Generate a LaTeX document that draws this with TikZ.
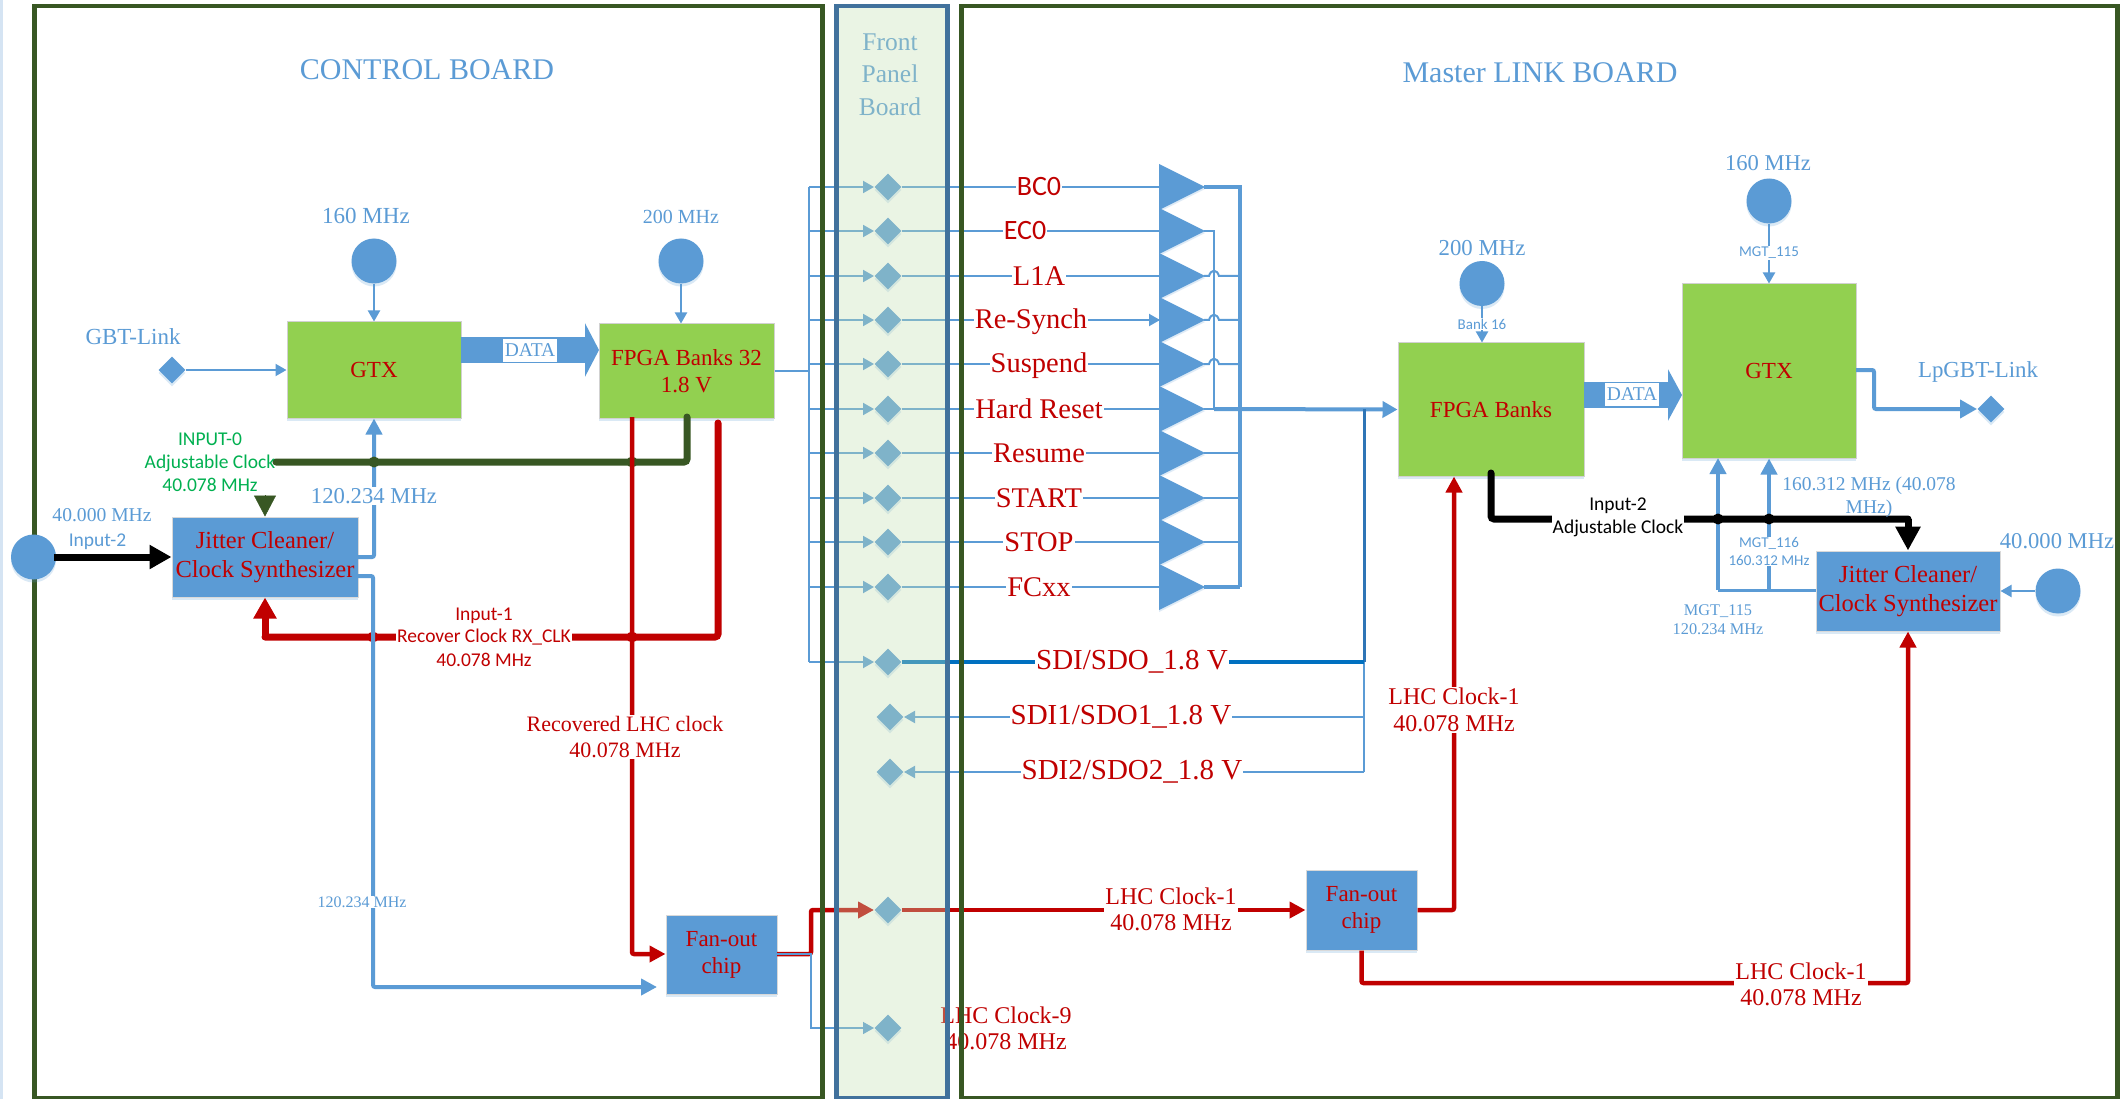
\documentclass[tikz,border=0pt]{standalone}
\usepackage{fontspec}
\setmainfont{Liberation Serif}
\newfontfamily\carl{Carlito}
\usetikzlibrary{arrows.meta,shapes.geometric,shadows}
\definecolor{mblue}{HTML}{5B9BD5}
\definecolor{dblue}{HTML}{2E75B6}
\definecolor{sblue}{HTML}{0070C0}
\definecolor{mred}{HTML}{C00000}
\definecolor{mgreen}{HTML}{92D050}
\definecolor{dgreen}{HTML}{385723}
\definecolor{tgreen}{HTML}{00B050}
\definecolor{pborder}{HTML}{41719C}
\definecolor{pfill}{HTML}{C5E0B4}
\definecolor{stripc}{HTML}{D5E4F3}
\newcommand\fszA[1]{\pgfmathsetmacro\tmpls{#1*1.18}\fontsize{#1}{\tmpls}\selectfont}
\newcommand\fszB[1]{\carl\pgfmathsetmacro\tmpls{#1*1.17}\fontsize{#1}{\tmpls}\selectfont}
\tikzset{
  softshadow/.style={drop shadow={shadow xshift=0pt,shadow yshift=-3pt,opacity=.22,fill=mblue}},
  gbox/.style={rectangle,fill=mgreen,draw=black!18,line width=1pt,inner sep=0pt,softshadow,text=mred,align=center},
  bbox/.style={rectangle,fill=mblue,draw=black!15,line width=1pt,inner sep=0pt,softshadow,text=mred,align=center},
  clk/.style={circle,fill=mblue,minimum size=45pt,inner sep=0pt,softshadow},
  dia/.style={diamond,fill=mblue,minimum width=27pt,minimum height=27pt,inner sep=0pt,softshadow},
  jdot/.style={circle,minimum size=11pt,inner sep=0pt},
  boardframe/.style={rectangle,draw=dgreen,line width=4.5pt,inner sep=0pt,anchor=north west},
  tb/.style={text=mblue,inner sep=1pt,align=center},
  tr/.style={text=mred,inner sep=1pt,align=center},
  fs/.style={font=\fszA{#1}},
  cs/.style={font=\fszB{#1}},
  wb/.style={fill=white},
  wthin/.style={draw=mblue,line width=2pt},
  wthick/.style={draw=mblue,line width=4pt,rounded corners=2pt},
  wred/.style={draw=mred,line width=4.5pt,rounded corners=2pt},
  hthin/.style={-{Triangle[length=11pt,width=12pt]}},
  hmid/.style={-{Triangle[length=16pt,width=16pt]}},
  hbig/.style={-{Triangle[length=21pt,width=22pt]}},
  rowlab/.style={tr,wb,fs=28.5},
  rowsans/.style={tr,wb,cs=28},
  datalab/.style={tb,wb,fs=19.5,inner sep=0pt,minimum height=23pt,minimum width=54pt},
}
\begin{document}
\begin{tikzpicture}[x=1pt,y=-1pt]
\useasboundingbox (0,0) rectangle (2126,1099);
\fill[white] (0,0) rectangle (2126,1099);
\fill[stripc] (0,0) rectangle (3,1099);

% ---------- blocks
\node[gbox,minimum width=174pt,minimum height=96pt,fs=23] (gtxa) at (374,370) {GTX};
\node[gbox,minimum width=175pt,minimum height=94pt,fs=23] (fpa) at (686.5,371) {FPGA Banks 32\\1.8 V};
\node[bbox,minimum width=186pt,minimum height=80pt,fs=24.5] (jita) at (265,557) {Jitter Cleaner/\\Clock Synthesizer};
\node[bbox,minimum width=111pt,minimum height=79pt,fs=23] (fana) at (721.5,954.5) {Fan-out\\chip};
\node[gbox,minimum width=186pt,minimum height=133pt,fs=23] (fpb) at (1491,409.5) {FPGA Banks};
\node[gbox,minimum width=174pt,minimum height=174pt,fs=23] (gtxb) at (1769,371) {GTX};
\node[bbox,minimum width=184pt,minimum height=80pt,fs=24.5] (jitb) at (1908,591) {Jitter Cleaner/\\Clock Synthesizer};
\node[bbox,minimum width=111pt,minimum height=80pt,fs=23] (fanb) at (1361.5,910) {Fan-out\\chip};

\node[clk] (ca1) at (374,261) {};
\node[clk] (ca2) at (681,261) {};
\node[clk] (cb1) at (1482,283.5) {};
\node[clk] (cb2) at (1769,201) {};
\node[clk] (cb3) at (2058,591) {};
\node[dia] (gbt) at (172,370) {};
\node[dia] (lpg) at (1991,409) {};

% ---------- coordinates of free ends and bends
\coordinate (busTop) at (809,187);
\coordinate (busBot) at (809,662);
\coordinate (busIn) at (809,371);
\coordinate (gaDataA) at (461,350);
\coordinate (gaDataB) at (599,350);
\coordinate (gbDataA) at (1584,395);
\coordinate (gbDataB) at (1682,395);
\coordinate (jaOutA) at (358,557);
\coordinate (jaOutA2) at (374,557);
\coordinate (jaOutB) at (358,576);
\coordinate (jaOutB2) at (373,576);
\coordinate (jaOutB3) at (373,987);
\coordinate (fanIn) at (657,987);
\coordinate (greenL) at (276,462);
\coordinate (greenR) at (687,462);
\coordinate (greenTop) at (687,417);
\coordinate (redA) at (718,423);
\coordinate (redB) at (718,637);
\coordinate (redC) at (265,637);
\coordinate (redV) at (632,417);
\coordinate (redV2) at (632,954);
\coordinate (fanOut) at (777,954);
\coordinate (fanUp) at (811,954);
\coordinate (fanUp2) at (811,910);
\coordinate (fanDn) at (811,1028);
\coordinate (headDia) at (874,910);
\coordinate (headDib) at (874,1028);
\coordinate (greenHead) at (265,495);
\coordinate (redFb) at (1454,910);
\coordinate (fbDn2) at (1361.5,983);
\coordinate (fbR) at (1908,983);
\coordinate (blackA) at (1491,473);
\coordinate (blackB) at (1491,519);
\coordinate (blackC) at (1908,519);
\coordinate (lpOut) at (1856,370);
\coordinate (lpB) at (1874,370);
\coordinate (lpC) at (1874,409);
\coordinate (lpTip) at (1977,409);
\coordinate (mgtL) at (1718,590);
\coordinate (mgtM) at (1769,590);
\coordinate (mgtLT) at (1718,458);
\coordinate (mgtR) at (1816,590);
\coordinate (outBus) at (1240,187);
\coordinate (outBusB) at (1240,587);
\coordinate (eco) at (1214,231);
\coordinate (ecoB) at (1214,409);
\coordinate (sdiV) at (1364,409);

% ---------- signal rows
\foreach \i/\y in {1/187,2/231,3/276,4/320,5/364,6/409,7/453,8/498,9/542,10/587}{
  \node[dia] (d\i) at (888,\y) {};
  \coordinate (bus\i) at (809,\y);
  \coordinate (head\i) at (874,\y);
  \coordinate (tail\i) at (1160,\y);
  \coordinate (tip\i) at (1204,\y);
  \coordinate (right\i) at (1240,\y);
  \fill[mblue,drop shadow={shadow xshift=0pt,shadow yshift=-2pt,opacity=.2,fill=mblue}] (1159,\y-23) -- (1205,\y) -- (1159,\y+23) -- cycle;
  \draw[wthin,hthin] (bus\i) -- (head\i);
  \draw[wthin] (d\i) -- (tail\i);
}
\draw[wthin,hthin] (d4) -- (tail4);
\draw[wthin] (busTop) -- (busBot);
\draw[wthin] (fpa.east |- busIn) -- (busIn);

% outputs of the triangles
\draw[draw=mblue,line width=3.5pt] (tip1) -- (outBus) -- (outBusB);
\draw[draw=mblue,line width=3.5pt] (tip10) -- (right10);
\draw[draw=mblue,line width=1.5pt] (tip2) -- (eco) -- (ecoB);
\foreach \i/\y in {3/276,4/320,5/364}{
  \draw[draw=mblue,line width=2pt] (tip\i) -- (1209,\y) .. controls (1211,\y-7) and (1217,\y-7) .. (1219,\y) -- (right\i);
}
\draw[wthin] (tip6) -- (ecoB);
\foreach \i in {7,8,9}{\draw[wthin] (tip\i) -- (right\i);}
\draw[draw=mblue,line width=4pt,-{Triangle[length=15pt,width=16pt]}] (ecoB) -- (fpb.west);

% SDI rows
\node[dia] (sdi0) at (888,662) {};
\node[dia] (sdi1) at (890,717) {};
\node[dia] (sdi2) at (890,772) {};
\coordinate (sdiJ0) at (1364,662);
\coordinate (sdiJ1) at (1364,717);
\coordinate (sdiJ2) at (1364,772);
\coordinate (sdiH0) at (874,662);
\coordinate (sdiH1) at (904,717);
\coordinate (sdiH2) at (904,772);
\draw[draw=mblue,line width=2.5pt] (sdiJ0) -- (sdiJ2);
\draw[draw=dblue,line width=3pt] (sdiV) -- (sdiJ0);
\draw[wthin,hthin] (busBot) -- (sdiH0);
\draw[draw=sblue,line width=3.5pt] (sdi0) -- (sdiJ0);
\draw[wthin,hthin] (sdiJ1) -- (sdiH1);
\draw[wthin,hthin] (sdiJ2) -- (sdiH2);

% ---------- control board wiring
\draw[wthin,hthin] (gbt) -- (gtxa.west |- gbt);
\draw[wthin,hthin] (ca1) -- (gtxa);
\draw[wthin,hthin] (ca2) -- (ca2 |- fpa.north);
\draw[draw=mblue,line width=26pt,-{Triangle[length=14pt,width=53pt]}] (gaDataA) -- (gaDataB);
\draw[wthick,hmid] (jaOutA) -- (jaOutA2) -- (gtxa.south);
\draw[draw=dgreen,line width=7pt,rounded corners=3pt,line cap=round] (greenTop) -- (greenR) -- (greenL);
\node[jdot,fill=dgreen] (ga1) at (374,462) {};
\node[jdot,fill=dgreen] (ga2) at (632,462) {};
\draw[draw=dgreen,line width=.5pt,hbig] (greenHead) -- (jita.north);
\draw[draw=mred,line width=7pt,rounded corners=3pt,line cap=round] (redA) -- (redB) -- (redC);
\draw[draw=mred,line width=7pt,hbig] (redC) -- (jita.south);
\node[jdot,fill=mred] (ra1) at (373,637) {};
\node[jdot,fill=mred] (ra2) at (632,637) {};
\draw[wred,hmid] (redV) -- (redV2) -- (fana.west |- redV2);
\draw[wthick,hmid] (jaOutB) -- (jaOutB2) -- (jaOutB3) -- (fanIn);
\draw[wred,hmid] (fanOut) -- (fanUp) -- (fanUp2) -- (headDia);
\draw[draw=mblue,line width=1.5pt,hthin] (fanOut) -- (fanUp) -- (fanDn) -- (headDib);
\node[dia] (dlhc) at (888,910) {};
\node[dia] (dlhc9) at (888,1028) {};
\draw[draw=mred,line width=4.5pt,hmid] (dlhc) -- (fanb.west);
\draw[wred,hmid] (fanb.east) -- (redFb) -- (fpb.south -| redFb);
\draw[wred,hmid] (fanb.south) -- (fbDn2) -- (fbR) -- (jitb.south);

% ---------- link board wiring
\draw[wthin,hthin] (cb1) -- (cb1 |- fpb.north);
\draw[wthin,hthin] (cb2) -- (gtxb.north);
\draw[wthin,hthin] (cb3) -- (jitb.east |- cb3);
\draw[draw=mblue,line width=26pt,-{Triangle[length=14pt,width=51pt]}] (gbDataA) -- (gbDataB);
\draw[wthick,-{Triangle[length=17pt,width=18pt]}] (lpOut) -- (lpB) -- (lpC) -- (lpTip);
\draw[draw=mblue,line width=3pt] (mgtL) -- (mgtR);
\draw[wthick,hmid] (mgtL) -- (mgtLT);
\draw[wthick,hmid] (mgtM) -- (gtxb.south);
\draw[draw=black,line width=7pt,rounded corners=3pt,line cap=round] (blackA) -- (blackB) -- (blackC);
\draw[draw=black,line width=7pt,-{Triangle[length=24pt,width=24pt]}] (blackC) -- (jitb.north);
\node[jdot,fill=black] (bd1) at (1718,519) {};
\node[jdot,fill=black] (bd2) at (1769,519) {};

% ---------- labels
\foreach \i/\y/\lx/\txt/\sty in {1/187/1039/BC0/rowsans,2/231/1025/EC0/rowsans,3/276/1039/L1A/rowlab,4/322/1031/Re-Synch/rowlab,5/366/1039/Suspend/rowlab,6/409/1039/Hard Reset/rowlab,7/453/1039/Resume/rowlab,8/498/1039/START/rowlab,9/542/1039/STOP/rowlab,10/587/1039/FCxx/rowlab}{
  \node[\sty] (lab\i) at (\lx,\y) {\txt};
}
\node[rowlab,fs=29] (lsdi0) at (1132,662) {SDI/SDO\_1.8 V};
\node[rowlab,fs=29] (lsdi1) at (1121,717) {SDI1/SDO1\_1.8 V};
\node[rowlab,fs=29] (lsdi2) at (1132,772) {SDI2/SDO2\_1.8 V};

\node[tb,fs=30] (tcb) at (427,70) {CONTROL BOARD};
\node[tb,fs=30] (tml) at (1540,73) {Master LINK BOARD};
\node[tb,fs=25.5] (tfp) at (890,74.5) {Front\\[2.5pt]Panel\\[2.5pt]Board};
\node[tb,fs=23] (l160a) at (366,216) {160 MHz};
\node[tb,fs=20] (l200a) at (681,217) {200 MHz};
\node[tb,fs=23] (lgbt) at (133,337) {GBT-Link};
\node[datalab] (ldata) at (530,350.5) {DATA};
\node[tb,wb,fs=22.7] (l120) at (374,496) {120.234 MHz};
\node[tb,fs=19.6] (l40a) at (102,515) {40.000 MHz};
\node[tb,cs=19.5] (lin2a) at (97.5,542) {Input-2};
\node[text=tgreen,inner sep=1pt,align=center,cs=19.5] (lin0) at (210,462) {INPUT-0\\Adjustable Clock\\40.078 MHz};
\node[tr,cs=19.5] (lin1) at (484,637) {Input-1\\\phantom{Recover Clock RX\_CLK}\\40.078 MHz};
\node[tr,wb,cs=19.5] (lin1b) at (484,637) {Recover Clock RX\_CLK};
\node[tr,wb,fs=22] (lrec) at (625,737) {Recovered LHC clock\\40.078 MHz};
\node[tb,wb,fs=16] (l120b) at (362,902) {120.234 MHz};
\node[tr,wb,fs=24] (llhc1) at (1171,909) {LHC Clock-1\\[-2.5pt]40.078 MHz};
\node[tr,wb,fs=24] (llhc2) at (1454,710) {LHC Clock-1\\[-1pt]40.078 MHz};
\node[tr,wb,fs=24] (llhc3) at (1801,984) {LHC Clock-1\\[-2.5pt]40.078 MHz};
\node[tr,fs=24] (llhc9) at (1006,1028) {LHC Clock-9\\[-2.5pt]40.078 MHz};
\node[tb,fs=22.8] (l200b) at (1482,248) {200 MHz};
\node[tb,fs=22.6] (l160b) at (1768,163) {160 MHz};
\node[tb,wb,cs=15] (lbank) at (1482,324) {Bank 16};
\node[tb,wb,cs=15] (lmgt) at (1769,253) {MGT\_115};
\node[datalab] (ldatab) at (1632,394.5) {DATA};
\node[tb,fs=22.9] (llpg) at (1978,372) {LpGBT-Link};
\node[tb,fs=19.5] (l160m) at (1869,497) {160.312 MHz (40.078\\MHz)};
\node[tb,wb,cs=15] (lmgt6) at (1769,551.5) {MGT\_116\\160.312 MHz};
\node[tb,fs=16.3] (lmgt5) at (1718,619.5) {MGT\_115\\120.234 MHz};
\node[tb,fs=22.6] (l40b) at (2057,541) {40.000 MHz};
\node[text=black,fill=white,inner sep=1pt,align=center,cs=19.5] (lin2b) at (1618,517) {Input-2\\Adjustable Clock};

% ---------- panel overlay and board frames
\node[rectangle,draw=pborder,line width=4.5pt,fill=pfill,fill opacity=.35,draw opacity=1,inner sep=0pt,anchor=north west,minimum width=111pt,minimum height=1092pt] (panel) at (834,4) {};
\node[boardframe,minimum width=788pt,minimum height=1092pt] (ctrl) at (32,4) {};
\node[boardframe,minimum width=1156pt,minimum height=1092pt] (link) at (959,4) {};

% ---------- input clock sitting on the frame
\node[clk] (ca3) at (33.5,557) {};
\coordinate (ca3out) at (54,557);
\draw[draw=black,line width=7pt,-{Triangle[length=22pt,width=23pt]}] (ca3out) -- (jita.west);
\end{tikzpicture}
\end{document}
